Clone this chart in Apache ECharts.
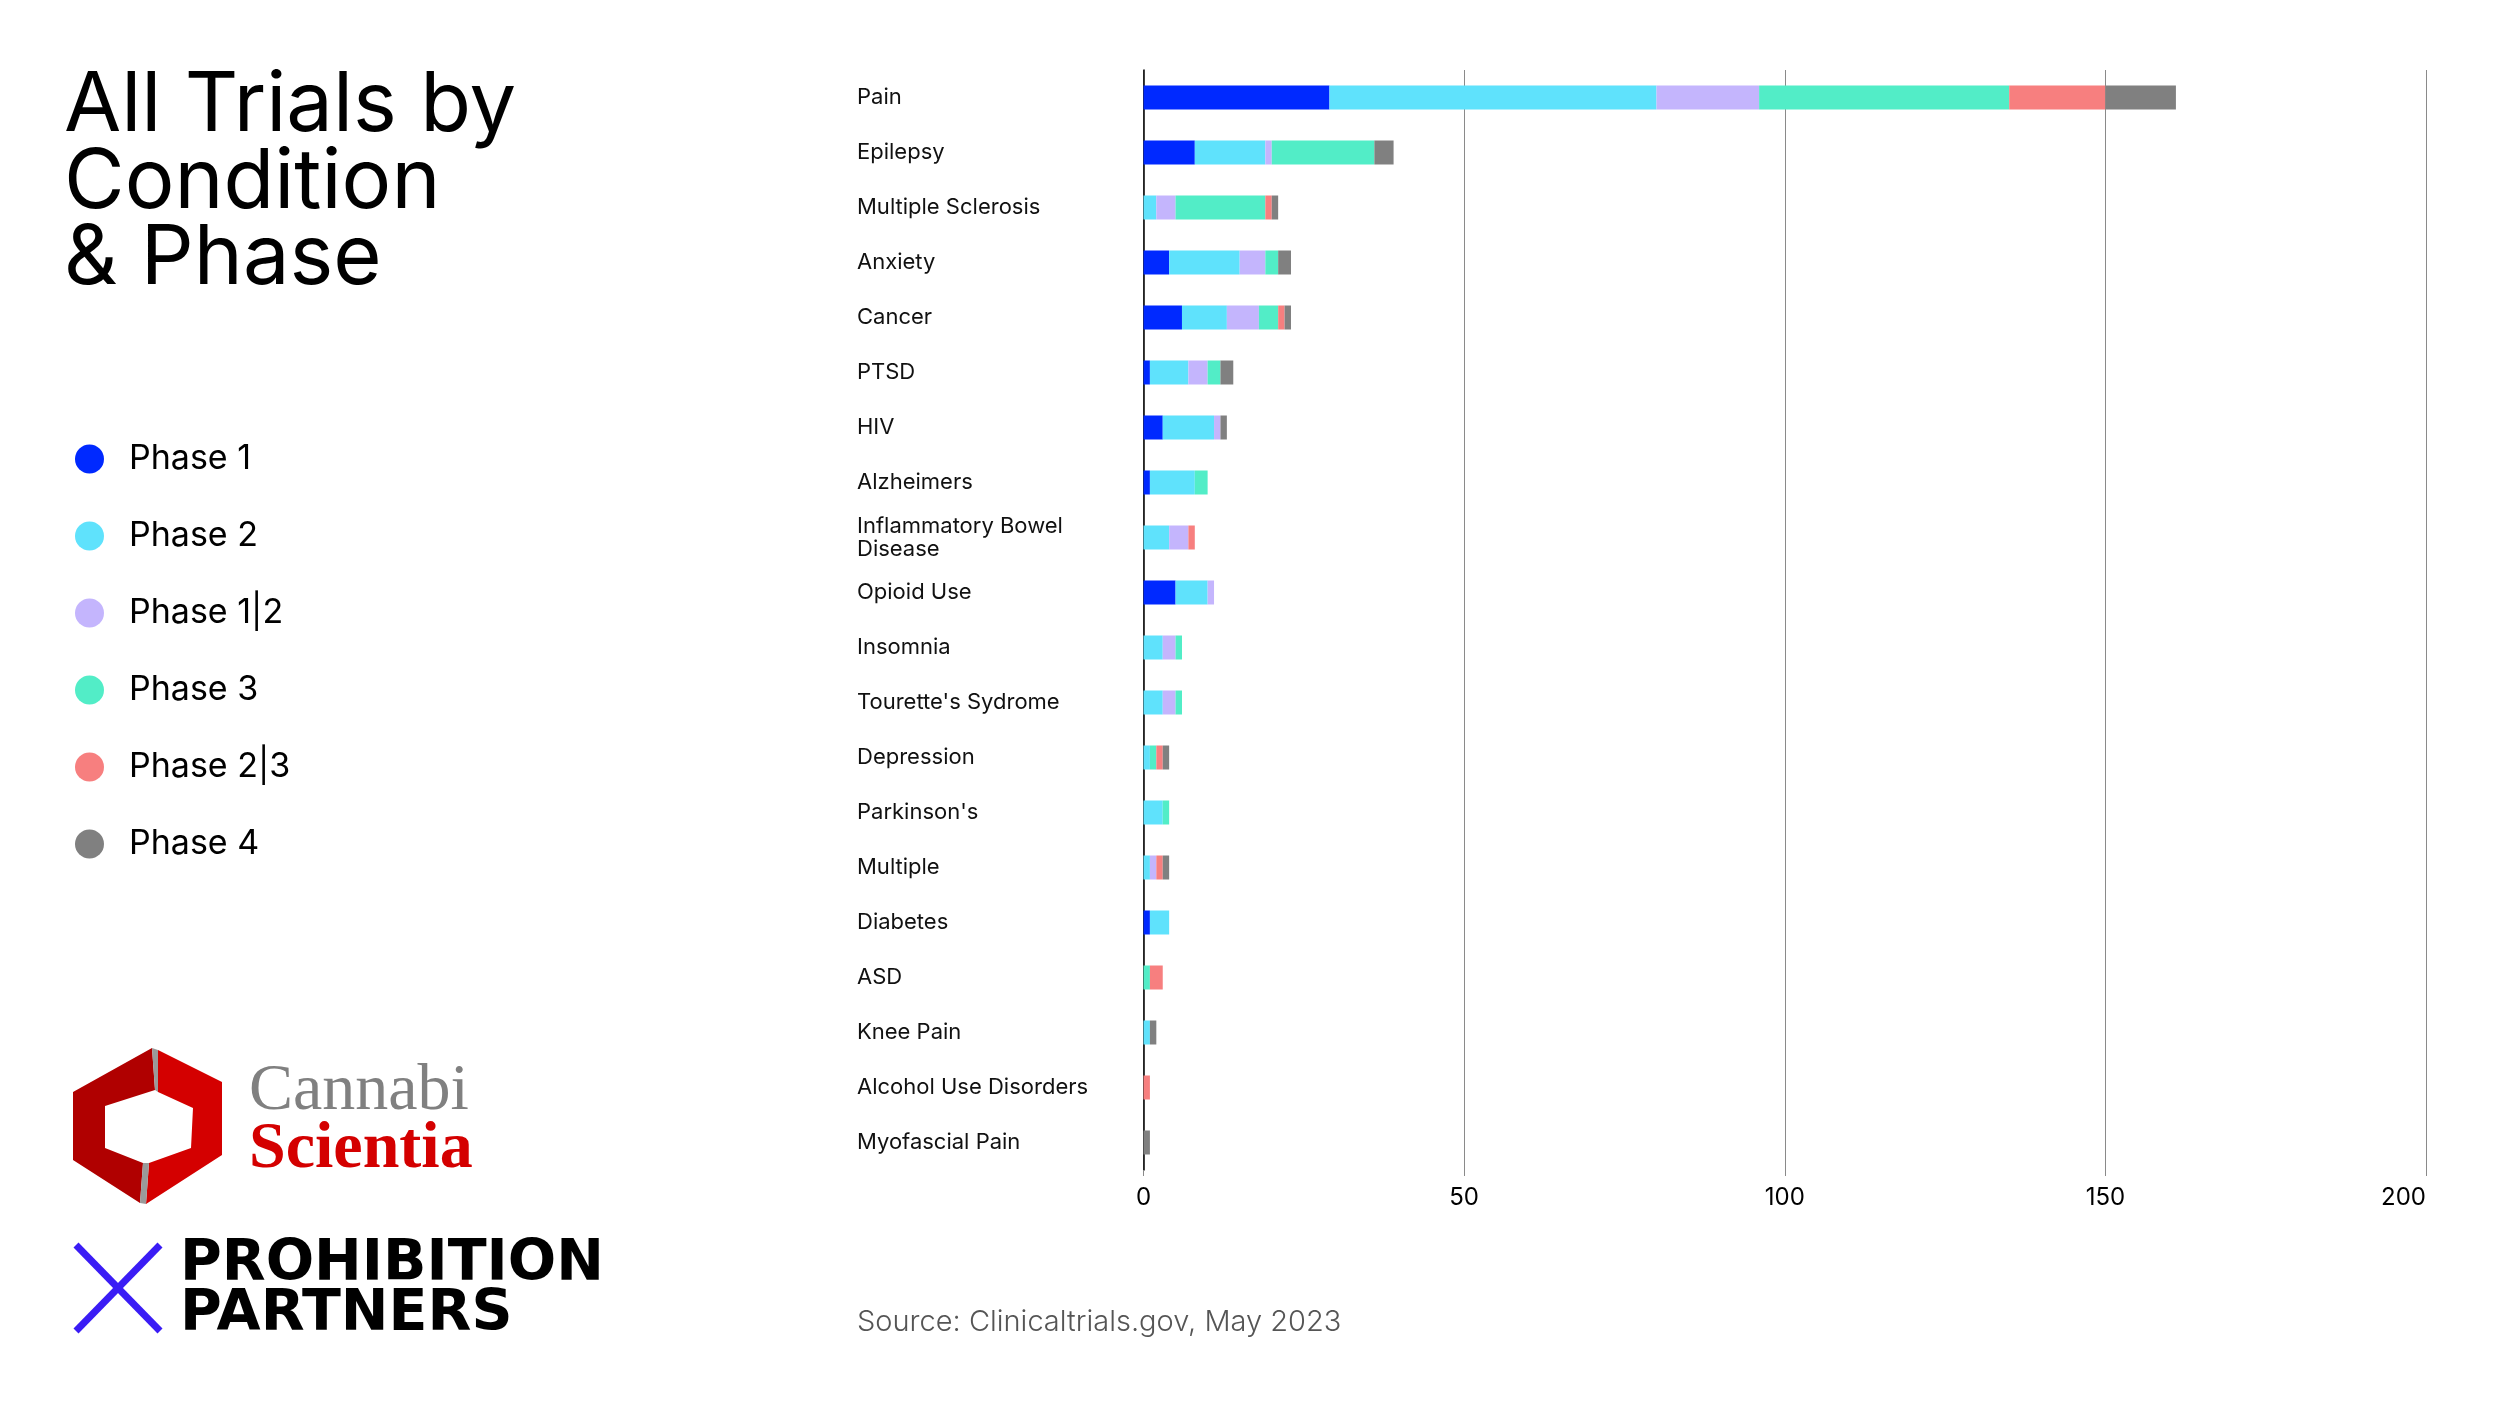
<!DOCTYPE html>
<html>
<head>
<meta charset="utf-8">
<script src="https://cdn.jsdelivr.net/npm/echarts@6/dist/echarts.min.js"></script>
<style>
html,body{margin:0;padding:0;background:#fff;}
#chart{width:2500px;height:1406px;}
</style>
</head>
<body>
<div id="chart"></div>
<script>
// ---- data ----
var categories = ['Pain','Epilepsy','Multiple Sclerosis','Anxiety','Cancer','PTSD','HIV','Alzheimers',
  'Inflammatory Bowel\nDisease','Opioid Use','Insomnia',"Tourette's Sydrome",'Depression',"Parkinson's",
  'Multiple','Diabetes','ASD','Knee Pain','Alcohol Use Disorders','Myofascial Pain'];
var seriesNames = ['Phase 1','Phase 2','Phase 1|2','Phase 3','Phase 2|3','Phase 4'];
var phase1  = [29, 8, 0, 4, 6, 1, 3, 1, 0, 5, 0, 0, 0, 0, 0, 1, 0, 0, 0, 0];
var phase2  = [51,11, 2,11, 7, 6, 8, 7, 4, 5, 3, 3, 1, 3, 1, 3, 0, 1, 0, 0];
var phase12 = [16, 1, 3, 4, 5, 3, 1, 0, 3, 1, 2, 2, 0, 0, 1, 0, 0, 0, 0, 0];
var phase3  = [39,16,14, 2, 3, 2, 0, 2, 0, 0, 1, 1, 1, 1, 0, 0, 1, 0, 0, 0];
var phase23 = [15, 0, 1, 0, 1, 0, 0, 0, 1, 0, 0, 0, 1, 0, 1, 0, 2, 0, 1, 0];
var phase4  = [11, 3, 1, 2, 1, 2, 1, 0, 0, 0, 0, 0, 1, 0, 1, 0, 0, 1, 0, 1];
var xTicks = [0, 50, 100, 150, 200];

var colors = ['#0029FF','#5FE2FC','#C4B5FD','#52EDC7','#F77F7F','#808080'];
var allData = [phase1, phase2, phase12, phase3, phase23, phase4];

var chart = echarts.init(document.getElementById('chart'), null, {renderer:'canvas'});

var series = seriesNames.map(function(name, i){
  return {
    name: name, type: 'bar', stack: 'total', data: allData[i],
    barWidth: 24, itemStyle: {color: colors[i]}, emphasis: {disabled: true}
  };
});

var F = 'Inter, "Noto Sans", sans-serif';

var option = {
  backgroundColor: '#ffffff',
  animation: false,
  color: colors,
  grid: {left: 1143.5, top: 70, width: 1282.5, height: 1100, containLabel: false},
  legend: {
    orient: 'vertical', left: 70, top: 437,
    icon: 'circle', itemWidth: 29, itemHeight: 29, itemGap: 43,
    data: seriesNames,
    textStyle: {fontFamily: F, fontSize: 34, color: '#000', lineHeight: 28, padding: [0,0,0,20]},
    selectedMode: false
  },
  xAxis: {
    type: 'value', min: xTicks[0], max: xTicks[xTicks.length-1], interval: 50,
    axisLine: {show: false},
    axisTick: {show: true, length: 6, lineStyle: {color: '#8a8a8a', width: 1}},
    splitLine: {show: true, lineStyle: {color: '#8a8a8a', width: 1}},
    axisLabel: {fontFamily: F, fontSize: 24, color: '#000', margin: 16, alignMaxLabel: 'right'}
  },
  yAxis: {
    type: 'category', data: categories, inverse: true,
    axisLine: {show: true, lineStyle: {color: '#000', width: 1.5}},
    axisTick: {show: false},
    axisLabel: {align: 'left', margin: 286.5, fontFamily: F, fontSize: 22, color: '#111', lineHeight: 23}
  },
  series: series,
  graphic: [
    {type:'text', x: 64, y: 106, style:{text:'All Trials by', font: '400 83px ' + F, fill:'#000', verticalAlign:'middle'}},
    {type:'text', x: 64, y: 183, style:{text:'Condition', font: '400 83px ' + F, fill:'#000', verticalAlign:'middle'}},
    {type:'text', x: 64, y: 259, style:{text:'& Phase', font: '400 83px ' + F, fill:'#000', verticalAlign:'middle'}},
    {type:'text', x: 857, y: 1322, style:{text:'Source: Clinicaltrials.gov, May 2023', font: '300 29px ' + F, fill:'#555', verticalAlign:'middle'}},
    // Cannabi Scientia logo mark
    {type:'polygon', shape:{points:[[152,1048],[73,1092],[73,1160],[140,1203],[143,1163],[105,1148],[105,1106],[155,1090]]}, style:{fill:'#B00000'}},
    {type:'polygon', shape:{points:[[158,1050],[222,1082],[222,1155],[146,1204],[149,1163],[191,1148],[193,1108],[158,1092]]}, style:{fill:'#D40000'}},
    {type:'polygon', shape:{points:[[152,1048],[158,1050],[158,1092],[155,1090]]}, style:{fill:'#9a9a9a'}},
    {type:'polygon', shape:{points:[[140,1203],[146,1204],[149,1163],[143,1163]]}, style:{fill:'#9a9a9a'}},
    {type:'text', x: 249, y: 1092, style:{text:'Cannabi', font:'400 66px "Liberation Serif", serif', fill:'#808080', verticalAlign:'middle'}},
    {type:'text', x: 249, y: 1150, style:{text:'Scientia', font:'700 66px "Liberation Serif", serif', fill:'#D40000', verticalAlign:'middle'}},
    // Prohibition Partners logo
    {type:'line', shape:{x1:76,y1:1245,x2:160,y2:1331}, style:{stroke:'#3A1CF5', lineWidth:7}},
    {type:'line', shape:{x1:160,y1:1245,x2:76,y2:1331}, style:{stroke:'#3A1CF5', lineWidth:7}},
    {type:'text', x: 180, y: 1265, style:{text:'PROHIBITION', font:'700 57px "DejaVu Sans", sans-serif', fill:'#000', verticalAlign:'middle'}},
    {type:'text', x: 180, y: 1315, style:{text:'PARTNERS', font:'700 57px "DejaVu Sans", sans-serif', fill:'#000', verticalAlign:'middle'}}
  ]
};
chart.setOption(option);
</script>
</body>
</html>
